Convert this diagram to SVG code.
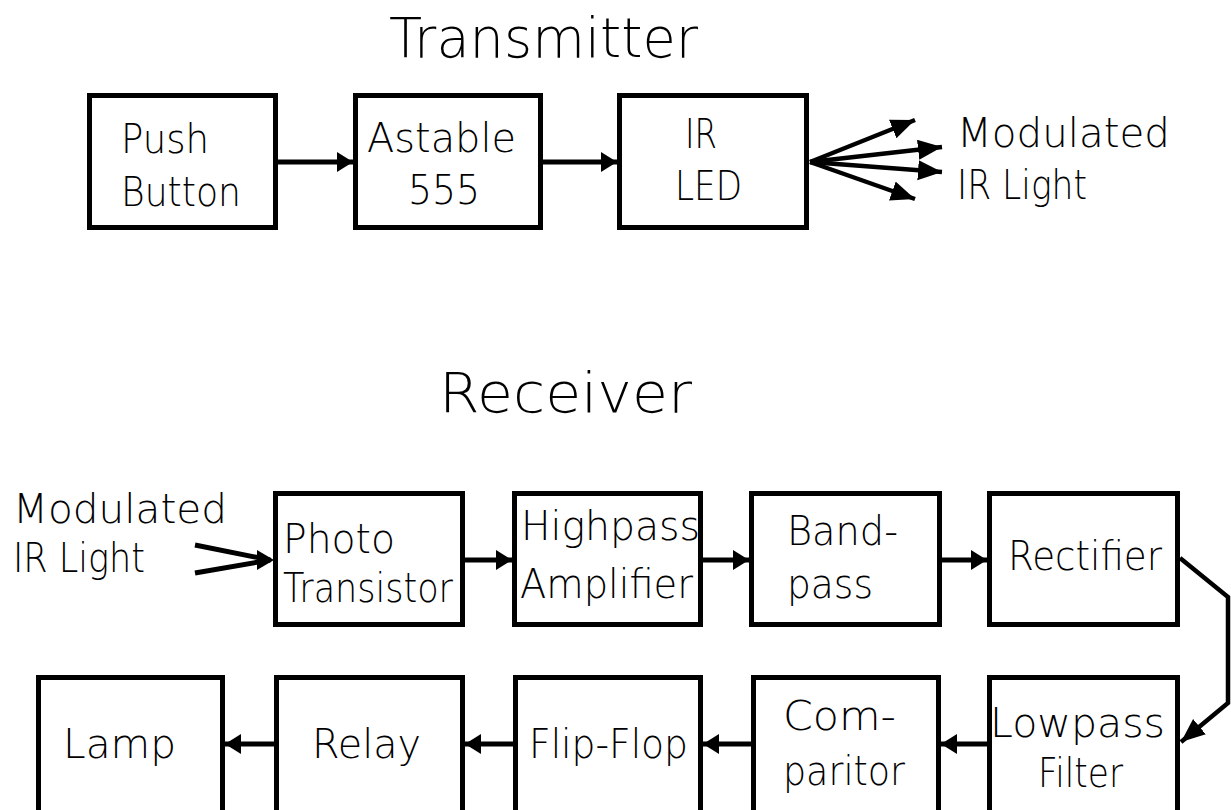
<svg xmlns="http://www.w3.org/2000/svg" width="1231" height="810" viewBox="0 0 1231 810">
<style>
  .box { fill: #ffffff; stroke: #000000; stroke-width: 5; }
  .t { font-family: "DejaVu Sans", "Liberation Sans", sans-serif; font-weight: 200; font-size: 40px; fill: #000000; }
  .title { font-family: "DejaVu Sans", "Liberation Sans", sans-serif; font-weight: 200; font-size: 56px; fill: #000000; }
  .conn { stroke: #000000; stroke-width: 5; fill: none; }
  .fan { stroke: #000000; stroke-width: 4.5; fill: none; }
  .head { fill: #000000; stroke: none; }
</style>
<defs>
  <marker id="arr" markerUnits="userSpaceOnUse" markerWidth="17" markerHeight="21" refX="16" refY="10" orient="auto" viewBox="0 0 17 21">
    <path d="M0,0 L16,10 L0,20 Z" fill="#000000"/>
  </marker>
  <marker id="arrf" markerUnits="userSpaceOnUse" markerWidth="25" markerHeight="21" refX="24" refY="10" orient="auto" viewBox="0 0 25 21">
    <path d="M0,0 L24,10 L0,20 Z" fill="#000000"/>
  </marker>
</defs>
<rect width="1231" height="810" fill="#ffffff"/>

<text class="title" x="389" y="57" textLength="309" lengthAdjust="spacingAndGlyphs">Transmitter</text>
<text class="title" x="439" y="412" textLength="253" lengthAdjust="spacingAndGlyphs">Receiver</text>

<g id="connectors">
  <line class="conn" x1="278" y1="162" x2="353" y2="162" marker-end="url(#arr)"/>
  <line class="conn" x1="543" y1="162" x2="617" y2="162" marker-end="url(#arr)"/>
  <line class="fan" x1="810" y1="162" x2="915" y2="120" marker-end="url(#arrf)"/>
  <line class="fan" x1="810" y1="162" x2="942" y2="147" marker-end="url(#arrf)"/>
  <line class="fan" x1="810" y1="162" x2="942" y2="172" marker-end="url(#arrf)"/>
  <line class="fan" x1="810" y1="162" x2="915" y2="199" marker-end="url(#arrf)"/>

  <line class="conn" x1="195" y1="545" x2="270" y2="560"/>
  <line class="conn" x1="195" y1="573" x2="270" y2="560"/>
  <polygon class="head" points="274,560 257,550 257,570"/>

  <line class="conn" x1="465" y1="560" x2="512" y2="560" marker-end="url(#arr)"/>
  <line class="conn" x1="703" y1="560" x2="749" y2="560" marker-end="url(#arr)"/>
  <line class="conn" x1="942" y1="560" x2="987" y2="560" marker-end="url(#arr)"/>
  <polyline class="fan" points="1180,558 1228,597 1228,703 1181,742" marker-end="url(#arrf)"/>

  <line class="conn" x1="987" y1="744" x2="941" y2="744" marker-end="url(#arr)"/>
  <line class="conn" x1="751" y1="744" x2="703" y2="744" marker-end="url(#arr)"/>
  <line class="conn" x1="513" y1="744" x2="465" y2="744" marker-end="url(#arr)"/>
  <line class="conn" x1="274" y1="744" x2="225" y2="744" marker-end="url(#arr)"/>
</g>

<g id="push-button">
  <rect class="box" x="89.5" y="95.5" width="186" height="132"/>
  <text class="t" x="121" y="153" textLength="88" lengthAdjust="spacingAndGlyphs">Push</text>
  <text class="t" x="121" y="206" textLength="120" lengthAdjust="spacingAndGlyphs">Button</text>
</g>
<g id="astable">
  <rect class="box" x="355.5" y="95.5" width="185" height="132"/>
  <text class="t" x="367" y="152" textLength="149" lengthAdjust="spacingAndGlyphs">Astable</text>
  <text class="t" x="408" y="204" textLength="72" lengthAdjust="spacingAndGlyphs">555</text>
</g>
<g id="ir-led">
  <rect class="box" x="619.5" y="95.5" width="187" height="132"/>
  <text class="t" x="685" y="148" textLength="32" lengthAdjust="spacingAndGlyphs">IR</text>
  <text class="t" x="675" y="200" textLength="67" lengthAdjust="spacingAndGlyphs">LED</text>
</g>
<g id="tx-light">
  <text class="t" x="957" y="147" textLength="213" lengthAdjust="spacingAndGlyphs">Modulated</text>
  <text class="t" x="957" y="199" textLength="130" lengthAdjust="spacingAndGlyphs">IR Light</text>
</g>

<g id="rx-light">
  <text class="t" x="13" y="523" textLength="214" lengthAdjust="spacingAndGlyphs">Modulated</text>
  <text class="t" x="13" y="572" textLength="132" lengthAdjust="spacingAndGlyphs">IR Light</text>
</g>
<g id="photo-transistor">
  <rect class="box" x="275.5" y="493.5" width="187" height="131"/>
  <text class="t" x="283" y="553" textLength="112" lengthAdjust="spacingAndGlyphs">Photo</text>
  <text class="t" x="283" y="602" textLength="170" lengthAdjust="spacingAndGlyphs">Transistor</text>
</g>
<g id="highpass-amplifier">
  <rect class="box" x="514.5" y="493.5" width="186" height="131"/>
  <text class="t" x="521" y="540" textLength="179" lengthAdjust="spacingAndGlyphs">Highpass</text>
  <text class="t" x="520" y="598" textLength="173" lengthAdjust="spacingAndGlyphs">Amplifier</text>
</g>
<g id="bandpass">
  <rect class="box" x="751.5" y="493.5" width="188" height="131"/>
  <text class="t" x="787" y="545" textLength="111" lengthAdjust="spacingAndGlyphs">Band-</text>
  <text class="t" x="787" y="598" textLength="86" lengthAdjust="spacingAndGlyphs">pass</text>
</g>
<g id="rectifier">
  <rect class="box" x="989.5" y="493.5" width="188" height="131"/>
  <text class="t" x="1008" y="570" textLength="154" lengthAdjust="spacingAndGlyphs">Rectifier</text>
</g>
<g id="lowpass-filter">
  <rect class="box" x="989.5" y="677.5" width="188" height="140"/>
  <text class="t" x="990" y="737" textLength="175" lengthAdjust="spacingAndGlyphs">Lowpass</text>
  <text class="t" x="1038" y="787" textLength="85" lengthAdjust="spacingAndGlyphs">Filter</text>
</g>
<g id="comparitor">
  <rect class="box" x="753.5" y="677.5" width="185" height="140"/>
  <text class="t" x="783" y="730" textLength="113" lengthAdjust="spacingAndGlyphs">Com-</text>
  <text class="t" x="783" y="785" textLength="122" lengthAdjust="spacingAndGlyphs">paritor</text>
</g>
<g id="flip-flop">
  <rect class="box" x="515.5" y="677.5" width="185" height="140"/>
  <text class="t" x="529" y="758" textLength="159" lengthAdjust="spacingAndGlyphs">Flip-Flop</text>
</g>
<g id="relay">
  <rect class="box" x="276.5" y="677.5" width="186" height="140"/>
  <text class="t" x="312" y="758" textLength="109" lengthAdjust="spacingAndGlyphs">Relay</text>
</g>
<g id="lamp">
  <rect class="box" x="38.5" y="677.5" width="184" height="140"/>
  <text class="t" x="63" y="758" textLength="113" lengthAdjust="spacingAndGlyphs">Lamp</text>
</g>
</svg>
